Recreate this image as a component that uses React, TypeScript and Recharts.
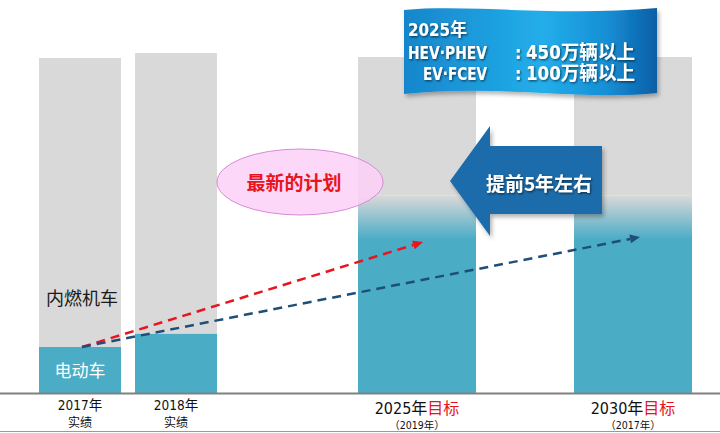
import React from 'react';
import { ComposedChart, Bar, XAxis, YAxis, LabelList } from 'recharts';

// ---- data ----
const CATEGORIES = ['2017年', '2018年', '2025年', '2030年'];
const CATEGORY_KIND = ['实绩', '实绩', '目标', '目标'];
const PLAN_YEAR = ['', '', '（2019年）', '（2017年）'];
const IS_TARGET = [false, false, true, true];
const EV_VALUES = [13.5, 17.5, 58, 58];
const ICE_VALUES = [85, 82.5, 40.8, 40.8];
const SERIES_NAMES = ['电动车', '内燃机车'];

const rows = CATEGORIES.map((cat, i) => ({
  cat,
  ev: IS_TARGET[i] ? null : EV_VALUES[i],
  ice: IS_TARGET[i] ? null : ICE_VALUES[i],
  evT: IS_TARGET[i] ? EV_VALUES[i] : null,
  iceT: IS_TARGET[i] ? ICE_VALUES[i] : null,
}));

const NARROW = "'Liberation Sans Narrow', 'DejaVu Sans Condensed', 'Liberation Sans', 'Noto Sans CJK SC', sans-serif";
const CJK = "'Noto Sans CJK SC', 'Noto Sans', sans-serif";
const TEAL = '#4bacc6';
const GRAY = '#d9d9d9';
const RED = '#e8141e';

const vbOf = (p: any) => {
  const v = p.viewBox && p.viewBox.width !== undefined ? p.viewBox : p;
  return { x: Number(v.x), y: Number(v.y), w: Number(v.width), h: Number(v.height) };
};

const idxOf = (props: any) => CATEGORIES.indexOf(String(props.value));

const catLabel = (target: boolean) => (props: any) => {
  const i = idxOf(props);
  if (i < 0 || IS_TARGET[i] !== target) return null;
  const { x, y, w, h } = vbOf(props);
  if (!isFinite(x)) return null;
  const cx = x + w / 2;
  const base = y + h;
  if (!target) {
    return (
      <g>
        <text x={cx} y={base + 17} textAnchor="middle" fontSize={13.5} fontFamily={NARROW} fill="#111">{CATEGORIES[i]}</text>
        <text x={cx} y={base + 34} textAnchor="middle" fontSize={12} fontFamily={CJK} fill="#111">{CATEGORY_KIND[i]}</text>
      </g>
    );
  }
  return (
    <text x={cx} y={base + 21} textAnchor="middle" fontSize={16} fontFamily={NARROW} fill="#111">
      <tspan x={cx}>
        {CATEGORIES[i]}
        <tspan fill={RED} fontFamily={CJK}>{CATEGORY_KIND[i]}</tspan>
      </tspan>
      <tspan x={cx} dy={14.5} fontSize={10.5}>{PLAN_YEAR[i]}</tspan>
    </text>
  );
};

const evName = (props: any) => {
  if (idxOf(props) !== 0) return null;
  const { x, y, w, h } = vbOf(props);
  return (
    <text x={x + w / 2} y={y + h / 2 + 7} textAnchor="middle" fontSize={17} fontFamily={CJK} fill="#ffffff">{SERIES_NAMES[0]}</text>
  );
};

const iceName = (props: any) => {
  if (idxOf(props) !== 0) return null;
  const { x, y, w, h } = vbOf(props);
  return (
    <text x={x + w / 2 + 2} y={y + h - 42} textAnchor="middle" fontSize={18} fontFamily={CJK} fill="#1a1a1a">{SERIES_NAMES[1]}</text>
  );
};

const DashedArrow = ({ x1, y1, x2, y2, color }: any) => {
  const a = Math.atan2(y2 - y1, x2 - x1);
  const L = 10;
  const W = 4.5;
  const bx = x2 - L * Math.cos(a);
  const by = y2 - L * Math.sin(a);
  const px = -Math.sin(a) * W;
  const py = Math.cos(a) * W;
  return (
    <g>
      <line x1={x1} y1={y1} x2={bx} y2={by} stroke={color} strokeWidth={2.5} strokeDasharray="9 6" />
      <polygon points={`${x2},${y2} ${bx + px},${by + py} ${bx - px},${by - py}`} fill={color} />
    </g>
  );
};

const Overlay = () => (
  <svg width={720} height={433} style={{ position: 'absolute', left: 0, top: 0, pointerEvents: 'none' }}>
    <defs>
      <linearGradient id="bannerFill" x1="0" y1="0" x2="1" y2="0">
        <stop offset="0%" stopColor="#1786cc" />
        <stop offset="55%" stopColor="#22aeea" />
        <stop offset="80%" stopColor="#168fd5" />
        <stop offset="100%" stopColor="#0b5ea6" />
      </linearGradient>
      <filter id="textShadow" x="-10%" y="-30%" width="130%" height="160%">
        <feDropShadow dx="1" dy="1.2" stdDeviation="0.8" floodColor="#000" floodOpacity="0.6" />
      </filter>
      <filter id="shapeShadow" x="-10%" y="-10%" width="130%" height="130%">
        <feDropShadow dx="2" dy="3" stdDeviation="2" floodColor="#000" floodOpacity="0.3" />
      </filter>
    </defs>
    {/* axis base line and bottom border */}
    <line x1={0} y1={393.5} x2={720} y2={393.5} stroke="#808080" strokeWidth={2} />
    <line x1={0} y1={431.5} x2={720} y2={431.5} stroke="#9a9a9a" strokeWidth={1} />
    {/* trend arrows */}
    <DashedArrow x1={82} y1={347} x2={423} y2={242} color="#e8141e" />
    <DashedArrow x1={82} y1={347} x2={640} y2={237} color="#1f4e79" />
    {/* ellipse callout */}
    <ellipse cx={300} cy={182} rx={83} ry={33} fill="#fbd0f6" fillOpacity={0.85} stroke="#d98ad8" strokeWidth={1} />
    <text x={294} y={190} textAnchor="middle" fontSize={19} fontWeight="bold" fill={RED} fontFamily={CJK}>最新的计划</text>
    {/* blue arrow */}
    <polygon points="450,181 490,126 490,146 602,146 602,214 490,214 490,236" fill="#1b6cab" filter="url(#shapeShadow)" />
    <text x={539} y={191} textAnchor="middle" fontSize={19} fontWeight="bold" fill="#ffffff" fontFamily={CJK} filter="url(#textShadow)">提前5年左右</text>
    {/* banner */}
    <path d="M404,10 C470,4 560,17 657,8 L657,93 C585,101 500,84 404,94 Z" fill="url(#bannerFill)" filter="url(#shapeShadow)" />
    <g fill="#ffffff" fontWeight="bold" fontFamily={NARROW} filter="url(#textShadow)">
      <text x={408} y={36} fontSize={18} textLength={59} lengthAdjust="spacingAndGlyphs">2025年</text>
      <text x={408} y={59} fontSize={18} textLength={79} lengthAdjust="spacingAndGlyphs">HEV·PHEV</text>
      <text x={515} y={59} fontSize={18}>:</text>
      <text x={526} y={59} fontSize={19} textLength={109} lengthAdjust="spacingAndGlyphs">450万辆以上</text>
      <text x={423} y={80} fontSize={18} textLength={64} lengthAdjust="spacingAndGlyphs">EV·FCEV</text>
      <text x={515} y={80} fontSize={18}>:</text>
      <text x={526} y={80} fontSize={19} textLength={109} lengthAdjust="spacingAndGlyphs">100万辆以上</text>
    </g>
  </svg>
);

export default function App() {
  return (
    <div style={{ width: 720, height: 433, position: 'relative' }}>
      <style>{'html,body{margin:0;padding:0;overflow:hidden;background:#fff}'}</style>
      <ComposedChart width={720} height={433} data={rows} margin={{ top: 53, right: 0, bottom: 40, left: 0 }}>
        <defs>
          <linearGradient id="evFade" x1="0" y1="0" x2="0" y2="1">
            <stop offset="0%" stopColor={GRAY} />
            <stop offset="22%" stopColor={TEAL} />
            <stop offset="100%" stopColor={TEAL} />
          </linearGradient>
        </defs>
        <XAxis xAxisId="a" dataKey="cat" type="category" hide padding={{ left: 32, right: 304 }} />
        <XAxis xAxisId="b" dataKey="cat" type="category" hide padding={{ left: -123, right: -21 }} />
        <YAxis domain={[0, 100]} hide allowDataOverflow width={0} />
        <Bar xAxisId="a" dataKey="ev" stackId="a" fill={TEAL} barSize={82} isAnimationActive={false}>
          <LabelList dataKey="cat" content={catLabel(false)} />
          <LabelList dataKey="cat" content={evName} />
        </Bar>
        <Bar xAxisId="a" dataKey="ice" stackId="a" fill={GRAY} barSize={82} isAnimationActive={false}>
          <LabelList dataKey="cat" content={iceName} />
        </Bar>
        <Bar xAxisId="b" dataKey="evT" stackId="b" fill="url(#evFade)" barSize={118} isAnimationActive={false}>
          <LabelList dataKey="cat" content={catLabel(true)} />
        </Bar>
        <Bar xAxisId="b" dataKey="iceT" stackId="b" fill={GRAY} barSize={118} isAnimationActive={false} />
      </ComposedChart>
      <Overlay />
    </div>
  );
}
